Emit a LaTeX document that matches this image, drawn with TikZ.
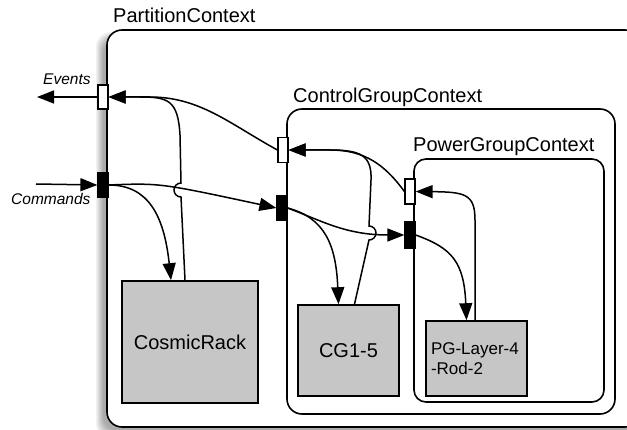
\documentclass[tikz,border=0pt]{standalone}
\usepackage{fontspec}
\setmainfont{Liberation Sans}
\usetikzlibrary{arrows.meta}
\definecolor{boxgray}{RGB}{198,198,198}
\begin{document}
\begin{tikzpicture}[x=1pt,y=-1pt,
  ctx/.style={draw, line width=1.6pt, fill=white, inner sep=0pt},
  gbox/.style={draw, line width=1.6pt, fill=boxgray, inner sep=0pt, font=\fontsize{20}{24}\selectfont},
  wport/.style={draw, line width=1.2pt, fill=white, minimum width=10pt, minimum height=24pt, inner sep=0pt},
  bport/.style={wport, fill=black},
  arr/.style={line width=1.5pt, -{Triangle[length=17pt,width=13pt]}},
  ctxlabel/.style={font=\fontsize{20}{24}\selectfont, anchor=base west, inner sep=0pt},
  side/.style={font=\itshape\fontsize{15.5}{18}\selectfont, anchor=base west, inner sep=0pt}
]
\useasboundingbox (0,0) rectangle (627,430);
\clip (0,0) rectangle (627,430);

% shadow of the outer context
\foreach \s in {1,...,9}{
  \fill[black, opacity=0.045, rounded corners=15pt] (104-0.9*\s, 40-0.9*\s) rectangle (660, 430+0.9*\s);
}

% contexts
\node[ctx, rounded corners=15pt, minimum width=533pt, minimum height=397pt] (part) at (373.5,228.5) {};
\node[ctx, rounded corners=15pt, minimum width=328pt, minimum height=305pt] (cgctx) at (451,261.5) {};
\node[ctx, rounded corners=12pt, minimum width=190pt, minimum height=243pt] (pgctx) at (509,280.5) {};

\node[ctxlabel] (partlbl) at (113,23) {PartitionContext};
\node[ctxlabel] (cglbl) at (293,103) {ControlGroupContext};
\node[ctxlabel] (pglbl) at (413,152) {PowerGroupContext};

\node[side] (evlbl) at (43,85) {Events};
\node[side] (cmdlbl) at (11,205) {Commands};

% leaf boxes
\node[gbox, minimum width=136pt, minimum height=122pt] (cr) at (190,342) {CosmicRack};
\node[gbox, minimum width=101pt, minimum height=91pt] (cg15) at (348.5,350.5) {CG1-5};
\node[gbox, minimum height=75pt, text width=91pt, inner xsep=5pt, align=left,
      font=\fontsize{17}{20}\selectfont] (pgl) at (476.5,358.5) {PG-Layer-4\\-Rod-2};

% ports
\node[wport] (pe) at (103,97) {};
\node[bport] (pc) at (103,185) {};
\node[wport, minimum height=25pt] (cge) at (283,150) {};
\node[bport, minimum height=25pt] (cgc) at (282,208) {};
\node[wport, minimum height=25pt] (pge) at (410,191.5) {};
\node[bport, minimum height=26pt] (pgc) at (410,235) {};

% outside
\coordinate (evout) at (37,97);
\coordinate (cmdin) at (36,184);
\draw[arr] (pe.west) -- (evout);
\draw[arr] (cmdin) -- (pc.west);

% partition level
\draw[arr] (pc.east) .. controls (160,183) .. (cgc.west);
\draw[arr] (pc.east) .. controls (148,185) and (164,215) .. ([xshift=-19pt]cr.north);
\draw[arr] ([xshift=-5pt]cr.north) -- (181,197) arc[start angle=90, end angle=270, radius=7]
  -- (180,135) .. controls (178,100) and (168,97) .. (140,97) -- (pe.east);
\draw[arr] (cge.west) .. controls (230,124) and (200,97) .. (150,97) -- (pe.east);

% control group level
\draw[arr] (cgc.east) .. controls (320,220) and (345,235) .. (pgc.west);
\draw[arr] (cgc.east) .. controls (325,218) and (336,245) .. ([xshift=-10pt]cg15.north);
\draw[arr] ([xshift=6pt]cg15.north) -- (369,240) arc[start angle=90, end angle=-90, radius=7]
  -- (371,180) .. controls (372,155) and (360,150) .. (330,150) -- (cge.east);
\draw[arr] (pge.west) .. controls (385,165) and (365,150) .. (330,150) -- (cge.east);

% power group level
\draw[arr] (pgc.east) .. controls (452,248) and (464,262) .. ([xshift=-10pt]pgl.north);
\draw[arr] ([xshift=-1.5pt]pgl.north) -- (475,220) .. controls (475,194) and (465,192) .. (pge.east);
\end{tikzpicture}
\end{document}
